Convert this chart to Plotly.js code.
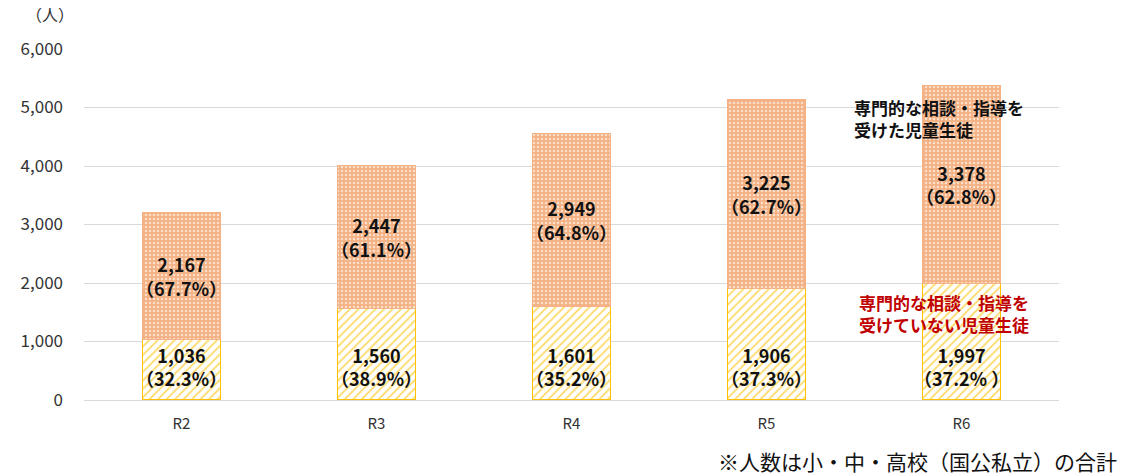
<!DOCTYPE html>
<html>
<head>
<meta charset="utf-8">
<script src="https://cdn.plot.ly/plotly-3.0.1.min.js"></script>
<style>
  body { margin: 0; background: #fff; }
  #root { width: 1126px; height: 475px; }
</style>
</head>
<body>
<div id="root"></div>
<script>
// 年度
const years = ['R2', 'R3', 'R4', 'R5', 'R6'];
// 専門的な相談・指導を受けていない児童生徒
const notReceived = [1036, 1560, 1601, 1906, 1997];
const notReceivedPct = ['32.3%', '38.9%', '35.2%', '37.3%', '37.2% '];
// 専門的な相談・指導を受けた児童生徒
const received = [2167, 2447, 2949, 3225, 3378];
const receivedPct = ['67.7%', '61.1%', '64.8%', '62.7%', '62.8%'];

const FONT = '"Noto Sans CJK JP", "Noto Sans", sans-serif';
const LABEL_FONT = { family: FONT, size: 18, color: '#111', weight: 'bold' };

function labels(values, pcts) {
    const out = [];
    for (let i = 0; i < values.length; i++) {
        out.push(values[i].toLocaleString('en-US') + '<br>（' + pcts[i] + '）');
    }
    return out;
}

const traceBottom = {
    x: years,
    y: notReceived,
    type: 'bar',
    name: '専門的な相談・指導を受けていない児童生徒',
    width: 0.4,
    marker: {
        color: '#ffffff',
        line: { color: '#FFC000', width: 1.5 },
        pattern: { shape: '/', fgcolor: '#FFD966', bgcolor: '#ffffff', size: 6, solidity: 0.3 }
    },
    hoverinfo: 'skip'
};

const traceTop = {
    x: years,
    y: received,
    type: 'bar',
    name: '専門的な相談・指導を受けた児童生徒',
    width: 0.4,
    text: labels(received, receivedPct),
    textposition: 'inside',
    insidetextanchor: 'middle',
    textangle: 0,
    constraintext: 'none',
    textfont: LABEL_FONT,
    marker: {
        color: '#F4B183',
        line: { color: '#F4B183', width: 1 },
        pattern: { shape: '.', fgcolor: '#FBE0CC', bgcolor: '#F4B183', size: 4, solidity: 0.3 }
    },
    hoverinfo: 'skip'
};

// 下段のラベルは棒の底にそろえて置く
const bottomLabels = labels(notReceived, notReceivedPct).map((t, i) => ({
    xref: 'x', yref: 'y', x: years[i], y: 0,
    xanchor: 'center', yanchor: 'bottom', yshift: 7,
    text: t, showarrow: false, font: LABEL_FONT
}));

const layout = {
    width: 1126,
    height: 475,
    margin: { l: 84, r: 67, t: 49, b: 75 },
    barmode: 'stack',
    showlegend: false,
    paper_bgcolor: '#fff',
    plot_bgcolor: '#fff',
    font: { family: FONT, size: 16, color: '#333' },
    xaxis: {
        showgrid: false,
        showline: true,
        linecolor: '#d9d9d9',
        linewidth: 1,
        ticks: '',
        ticklabelstandoff: 10,
        tickfont: { family: FONT, size: 15, color: '#333' }
    },
    yaxis: {
        range: [0, 6000],
        dtick: 1000,
        tickformat: ',d',
        gridcolor: '#d9d9d9',
        gridwidth: 1,
        zeroline: false,
        ticks: '',
        ticklabelstandoff: 20,
        tickfont: { family: FONT, size: 17, color: '#333' }
    },
    annotations: bottomLabels.concat([
        {
            xref: 'paper', yref: 'paper', x: -0.035, y: 1.1,
            xanchor: 'center', yanchor: 'middle',
            text: '（人）', showarrow: false,
            font: { family: FONT, size: 16, color: '#333' }
        },
        {
            xref: 'paper', yref: 'y', x: 0.788, y: 5250,
            xanchor: 'left', yanchor: 'top', align: 'left',
            text: '専門的な相談・指導を<br>受けた児童生徒', showarrow: false,
            font: { family: FONT, size: 17, color: '#111', weight: 'bold' }
        },
        {
            xref: 'paper', yref: 'y', x: 0.793, y: 1920,
            xanchor: 'left', yanchor: 'top', align: 'left',
            text: '専門的な相談・指導を<br>受けていない児童生徒', showarrow: false,
            font: { family: FONT, size: 17, color: '#C00000', weight: 'bold' }
        },
        {
            xref: 'paper', yref: 'paper', x: 1.062, y: -0.174,
            xanchor: 'right', yanchor: 'middle',
            text: '※人数は小・中・高校（国公私立）の合計', showarrow: false,
            font: { family: FONT, size: 21, color: '#111' }
        }
    ])
};

Plotly.newPlot('root', [traceBottom, traceTop], layout, { displayModeBar: false, staticPlot: true });
</script>
</body>
</html>
